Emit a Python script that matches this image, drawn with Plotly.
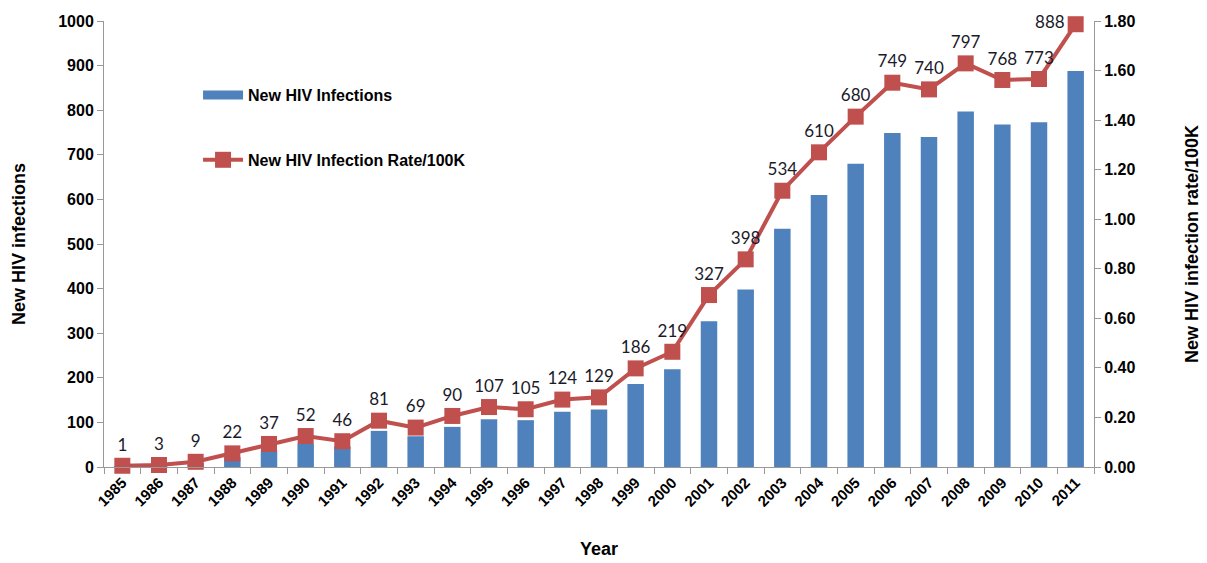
import plotly.graph_objects as go

years = [str(y) for y in range(1985, 2012)]
infections = [1, 3, 9, 22, 37, 52, 46, 81, 69, 90, 107, 105, 124, 129, 186, 219,
              327, 398, 534, 610, 680, 749, 740, 797, 768, 773, 888]
rates = [0.005, 0.008, 0.021, 0.055, 0.093, 0.125, 0.104, 0.187, 0.159, 0.206,
         0.242, 0.233, 0.272, 0.281, 0.398, 0.465, 0.694, 0.838, 1.115, 1.270,
         1.414, 1.551, 1.524, 1.629, 1.562, 1.566, 1.787]
labels = [str(v) for v in infections]
label_pos = ["top center"] * (len(years) - 1) + ["middle left"]

BAR = "#4F81BD"
LINE = "#C0504D"
AXIS = "#999999"
TXT = "#000000"

fig = go.Figure()
fig.add_trace(go.Bar(
    x=years, y=infections, name="New HIV Infections",
    marker=dict(color=BAR, line=dict(width=0)),
    showlegend=False, yaxis="y",
))
# legend proxy for bars (wide bar swatch like the original)
fig.add_trace(go.Scatter(
    x=[None], y=[None], name="New HIV Infections", mode="lines",
    line=dict(color=BAR, width=9), legendgroup="a", yaxis="y",
))
fig.add_trace(go.Scatter(
    x=years, y=rates, name="New HIV Infection Rate/100K",
    mode="lines+markers+text", text=labels, textposition=label_pos,
    textfont=dict(family="Lato, Open Sans, sans-serif", size=17, color="#1a1a2a"),
    line=dict(color=LINE, width=4),
    marker=dict(symbol="square", size=16, color=LINE),
    legendgroup="b", yaxis="y2", cliponaxis=False,
))

fig.update_layout(
    width=1207, height=563,
    margin=dict(l=96, r=121, t=13, b=104),
    paper_bgcolor="white", plot_bgcolor="white",
    bargap=0.55,
    font=dict(family="Liberation Sans, Arial, sans-serif", color=TXT),
    showlegend=True,
    legend=dict(
        x=0.095, y=0.872, xanchor="left", yanchor="top",
        bgcolor="rgba(0,0,0,0)", traceorder="grouped", tracegroupgap=41,
        itemwidth=40,
        font=dict(family="Liberation Sans, Arial, sans-serif", size=16, color=TXT,
                  weight="bold"),
    ),
    xaxis=dict(
        type="category", range=[-0.5, 26.5], automargin=False,
        showgrid=False, showline=True, linecolor=AXIS, linewidth=1,
        ticks="outside", tickson="boundaries", tickcolor=AXIS, ticklen=6,
        tickangle=-45,
        tickfont=dict(family="Liberation Sans, Arial, sans-serif", size=15,
                      color=TXT, weight="bold"),
        title=dict(text="<b>Year</b>", font=dict(size=18), standoff=33),
    ),
    yaxis=dict(
        range=[0, 1000], dtick=100, showgrid=False, zeroline=False, automargin=False,
        showline=True, linecolor=AXIS, linewidth=1,
        ticks="outside", tickcolor=AXIS, ticklen=6,
        tickfont=dict(family="Liberation Sans, Arial, sans-serif", size=16,
                      color=TXT, weight="bold"),
        title=dict(text="<b>New HIV infections</b>", font=dict(size=18), standoff=27),
    ),
    yaxis2=dict(
        range=[0, 1.8], dtick=0.2, tickformat=".2f", overlaying="y", side="right",
        automargin=False,
        showgrid=False, zeroline=False, showline=True, linecolor=AXIS, linewidth=1,
        ticks="outside", tickcolor=AXIS, ticklen=6,
        tickfont=dict(family="Liberation Sans, Arial, sans-serif", size=16,
                      color=TXT, weight="bold"),
        title=dict(text="<b>New HIV infection rate/100K</b>", font=dict(size=18),
                   standoff=50),
    ),
)

fig.write_html("out.html")
